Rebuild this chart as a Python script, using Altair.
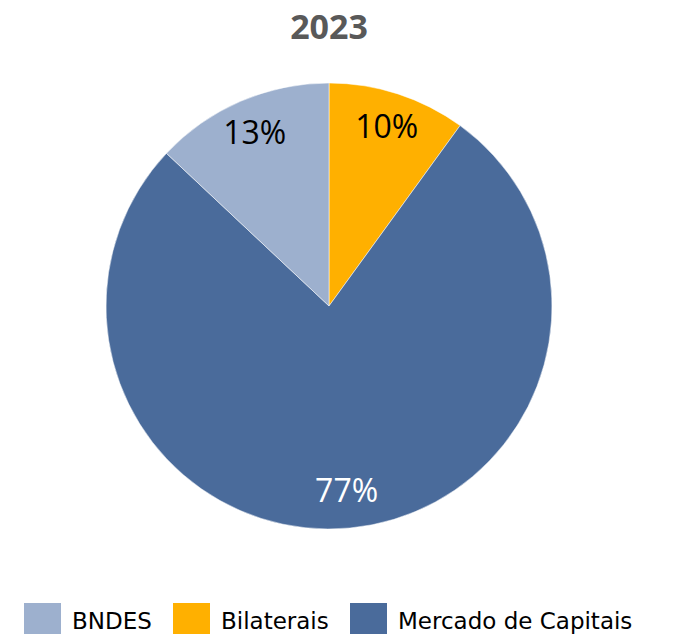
import altair as alt
import pandas as pd

# Data (clockwise from 12 o'clock)
categories = ["Bilaterais", "Mercado de Capitais", "BNDES"]
values = [10, 77, 13]
labels = ["10%", "77%", "13%"]
slice_order = [0, 1, 2]

legend_order = ["BNDES", "Bilaterais", "Mercado de Capitais"]
colors = ["#9DB0CE", "#FFB000", "#4A6B9B"]

df = pd.DataFrame({
    "cat": categories,
    "value": values,
    "label": labels,
    "ord": slice_order,
})

base = alt.Chart(df).encode(
    theta=alt.Theta("value:Q", stack=True),
    order=alt.Order("ord:Q"),
)

pie = base.mark_arc(outerRadius=223, stroke="white", strokeWidth=0.5).encode(
    color=alt.Color(
        "cat:N",
        scale=alt.Scale(domain=legend_order, range=colors),
        legend=alt.Legend(
            orient="none",
            legendX=16,
            legendY=535,
            direction="horizontal",
            title=None,
            symbolType="square",
            symbolSize=1369,
            symbolStrokeWidth=0,
            symbolOpacity=1,
            labelFont="DejaVu Sans",
            labelFontSize=23,
            labelColor="black",
            labelOffset=11,
            labelLimit=400,
            columnPadding=21,
            padding=0,
        ),
    )
)

text = base.mark_text(radius=187, font="Open Sans", fontSize=32).encode(
    text="label:N",
    color=alt.condition(
        "datum.cat == 'Mercado de Capitais'", alt.value("white"), alt.value("black")
    ),
)

chart = (
    alt.layer(pie, text)
    .properties(
        width=642,
        height=476,
        autosize=alt.AutoSizeParams(type="none"),
        padding={"left": 0, "top": 60, "right": 0, "bottom": 90},
        title=alt.TitleParams(
            "2023",
            font="Open Sans",
            fontSize=34,
            fontWeight="bold",
            color="#595959",
            anchor="middle",
            offset=22,
        ),
    )
    .configure_view(stroke=None)
)

chart.save("out.html", embed_options={"renderer": "svg", "actions": False})
